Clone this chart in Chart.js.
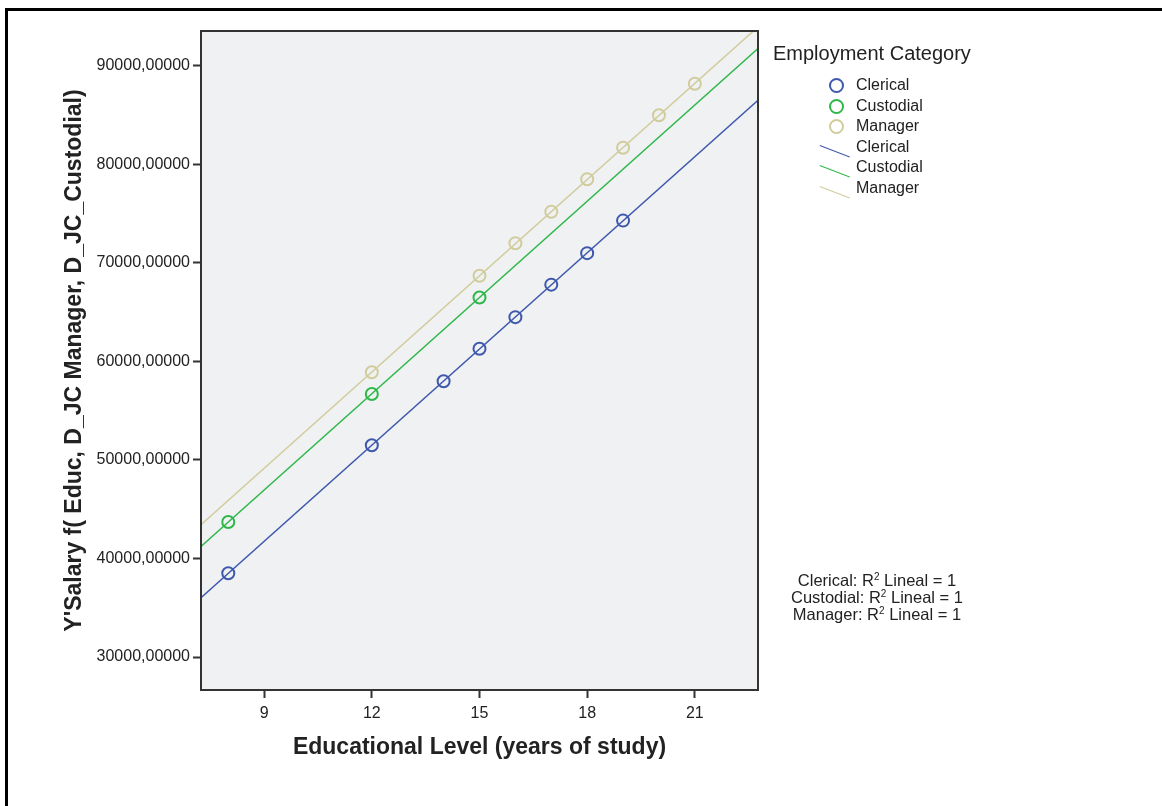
<!DOCTYPE html>
<html>
<head>
<meta charset="utf-8">
<script src="https://cdn.jsdelivr.net/npm/chart.js@4"></script>
<style>
  body { margin: 0; background: #fff; font-family: "Liberation Sans", Arial, sans-serif; }
  #wrap { position: relative; width: 1162px; height: 806px; overflow: hidden; }
  #frame { position: absolute; left: 5px; top: 8px; right: -10px; bottom: -10px; border-left: 3px solid #000; border-top: 3px solid #000; }
  canvas { position: absolute; left: 0; top: 0; }
  #legend { position: absolute; left: 773px; top: 41px; color: #222; }
  #legend .title { font-size: 20px; line-height: 24px; margin-bottom: 10px; }
  #legend .row { position: relative; height: 20.6px; font-size: 16px; line-height: 20.6px; padding-left: 83px; }
  #legend .circ { position: absolute; left: 56px; top: 3px; width: 11px; height: 11px; border-radius: 50%; border: 2px solid; }
  #legend .ln { position: absolute; left: 47px; top: 8px; width: 32px; height: 0; border-top: 1.5px solid; transform: rotate(21deg); transform-origin: 0 0; }
  #rsq { position: absolute; left: 777px; top: 572px; width: 200px; text-align: center; font-size: 16.5px; line-height: 17px; color: #222; }
  #rsq sup { font-size: 10px; vertical-align: 6px; line-height: 0; }
</style>
</head>
<body>
<div id="wrap">
  <div id="frame"></div>
  <canvas id="chart" width="1162" height="806"></canvas>
  <div id="legend"></div>
  <div id="rsq"></div>
</div>
<script>
// Data
const categories = ["Clerical", "Custodial", "Manager"];
const colors = ["#3e58ac", "#2eb84a", "#d1cc9c"];

const clericalEduc = [8, 12, 14, 15, 16, 17, 18, 19];
const clericalSalary = [38500, 51500, 58000, 61300, 64500, 67800, 71000, 74300];

const custodialEduc = [8, 12, 15];
const custodialSalary = [43700, 56700, 66500];

const managerEduc = [12, 15, 16, 17, 18, 19, 20, 21];
const managerSalary = [58900, 68700, 72000, 75200, 78500, 81700, 85000, 88200];

const xTicks = [9, 12, 15, 18, 21];
const yTicks = [30000, 40000, 50000, 60000, 70000, 80000, 90000];
const xMin = 7.24, xMax = 22.76;
const yMin = 26650, yMax = 93550;

const groups = [
  [clericalEduc, clericalSalary],
  [custodialEduc, custodialSalary],
  [managerEduc, managerSalary]
];

function fitLine(xs, ys) {
  const n = xs.length;
  const mx = xs.reduce((a, b) => a + b, 0) / n;
  const my = ys.reduce((a, b) => a + b, 0) / n;
  let sxy = 0, sxx = 0;
  for (let i = 0; i < n; i++) {
    sxy += (xs[i] - mx) * (ys[i] - my);
    sxx += (xs[i] - mx) * (xs[i] - mx);
  }
  const b = sxy / sxx;
  return x => my + b * (x - mx);
}

const datasets = [];
groups.forEach((g, i) => {
  datasets.push({
    type: 'scatter',
    label: categories[i],
    data: g[0].map((x, j) => ({ x: x, y: g[1][j] })),
    borderColor: colors[i],
    backgroundColor: 'rgba(0,0,0,0)',
    pointRadius: 6,
    pointBorderWidth: 2,
    pointHoverRadius: 6,
    order: 1
  });
});
groups.forEach((g, i) => {
  const f = fitLine(g[0], g[1]);
  datasets.push({
    type: 'line',
    label: categories[i],
    data: [{ x: xMin, y: f(xMin) }, { x: xMax, y: f(xMax) }],
    borderColor: colors[i],
    borderWidth: 1.5,
    pointRadius: 0,
    fill: false,
    order: 2
  });
});

const plotBox = {
  id: 'plotBox',
  beforeDraw(chart) {
    const a = chart.chartArea, ctx = chart.ctx;
    ctx.save();
    ctx.fillStyle = '#f0f1f3';
    ctx.fillRect(a.left, a.top, a.right - a.left, a.bottom - a.top);
    ctx.restore();
  },
  afterDraw(chart) {
    const a = chart.chartArea, ctx = chart.ctx;
    ctx.save();
    ctx.strokeStyle = '#333';
    ctx.lineWidth = 2;
    ctx.strokeRect(a.left, a.top, a.right - a.left, a.bottom - a.top);
    ctx.restore();
  }
};

const font = { family: '"Liberation Sans", Arial, sans-serif', size: 16 };
const titleFont = { family: font.family, size: 23, weight: 'bold' };

new Chart(document.getElementById('chart'), {
  data: { datasets: datasets },
  plugins: [plotBox],
  options: {
    responsive: false,
    animation: false,
    events: [],
    layout: { padding: { left: 0, top: 31, right: 404, bottom: 0 } },
    plugins: { legend: { display: false }, tooltip: { enabled: false } },
    scales: {
      x: {
        type: 'linear',
        min: xMin,
        max: xMax,
        afterFit: s => { s.height = 116; },
        afterBuildTicks: s => { s.ticks = xTicks.map(v => ({ value: v })); },
        grid: { drawOnChartArea: false, drawTicks: true, tickLength: 8, tickColor: '#333', tickWidth: 2 },
        border: { display: true, color: '#333', width: 2 },
        ticks: { font: font, color: '#222', padding: 6, maxRotation: 0 },
        title: {
          display: true,
          text: 'Educational Level (years of study)',
          font: titleFont,
          color: '#222',
          padding: { top: 0, bottom: 45 }
        }
      },
      y: {
        type: 'linear',
        min: yMin,
        max: yMax,
        afterFit: s => { s.width = 201; },
        afterBuildTicks: s => { s.ticks = yTicks.map(v => ({ value: v })); },
        grid: { drawOnChartArea: false, drawTicks: true, tickLength: 8, tickColor: '#333', tickWidth: 2 },
        border: { display: true, color: '#333', width: 2 },
        ticks: {
          font: font,
          color: '#222',
          padding: 3,
          callback: v => v.toFixed(5).replace('.', ',')
        },
        title: {
          display: true,
          text: "Y'Salary f( Educ, D_JC Manager, D_JC_Custodial)",
          font: titleFont,
          color: '#222',
          padding: { top: 61, bottom: 0 }
        }
      }
    }
  }
});

// legend built from the same arrays
const legend = document.getElementById('legend');
let html = '<div class="title">Employment Category</div>';
categories.forEach((c, i) => {
  html += '<div class="row"><span class="circ" style="border-color:' + colors[i] + '"></span>' + c + '</div>';
});
categories.forEach((c, i) => {
  html += '<div class="row"><span class="ln" style="border-color:' + colors[i] + '"></span>' + c + '</div>';
});
legend.innerHTML = html;

document.getElementById('rsq').innerHTML = categories
  .map(c => c + ': R<sup>2</sup> Lineal = 1')
  .join('<br>');
</script>
</body>
</html>
